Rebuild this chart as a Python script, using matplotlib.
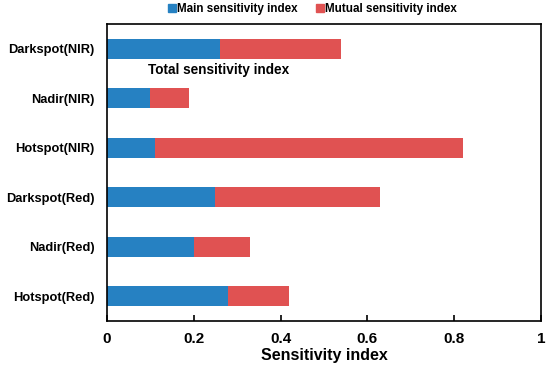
import matplotlib
matplotlib.use("Agg")
import matplotlib.pyplot as plt
from matplotlib.lines import Line2D

plt.rcParams['font.family'] = ['Liberation Sans', 'DejaVu Sans']
plt.rcParams['font.weight'] = 'bold'

categories = ["Hotspot(Red)", "Nadir(Red)", "Darkspot(Red)",
              "Hotspot(NIR)", "Nadir(NIR)", "Darkspot(NIR)"]
main_index = [0.28, 0.20, 0.25, 0.11, 0.10, 0.26]
total_index = [0.42, 0.33, 0.63, 0.82, 0.19, 0.54]
mutual_index = [t - m for t, m in zip(total_index, main_index)]
xticks = [0, 0.2, 0.4, 0.6, 0.8, 1]
xticklabels = ["0", "0.2", "0.4", "0.6", "0.8", "1"]

blue = "#2681c2"
red = "#e05252"

fig = plt.figure(figsize=(5.5, 3.7), dpi=100)
ax = fig.add_axes([0.1945, 0.1324, 0.789, 0.8026])
y = list(range(len(categories)))
ax.barh(y, main_index, height=0.4, color=blue, label="Main sensitivity index")
ax.barh(y, mutual_index, left=main_index, height=0.4, color=red,
        label="Mutual sensitivity index")
ax.set_ylim(-0.5, 5.5)
ax.set_xlim(0, 1)
ax.set_yticks(y)
ax.set_yticklabels(categories, fontsize=9.3, fontweight='bold')
ax.set_xticks(xticks)
ax.set_xticklabels(xticklabels, fontsize=11, fontweight='bold')
ax.tick_params(axis='x', direction='in', length=4, width=1.2, pad=8)
ax.tick_params(axis='y', length=0, pad=9)
for s in ax.spines.values():
    s.set_linewidth(1.2)
ax.set_xlabel("Sensitivity index", fontsize=11.5, fontweight='bold', labelpad=1)
ax.text(0.095, 4.58, "Total sensitivity index", fontsize=9.8, fontweight='bold',
        va='center', ha='left')

handles = [Line2D([], [], marker='s', color=blue, linestyle='none', markersize=5.5),
           Line2D([], [], marker='s', color=red, linestyle='none', markersize=5.5)]
fig.legend(handles, ["Main sensitivity index", "Mutual sensitivity index"],
           loc='center', bbox_to_anchor=(0.568, 0.975), ncol=2, frameon=False,
           fontsize=8.4, handletextpad=0.1, columnspacing=1.5, handlelength=0.7)

fig.savefig("out.png", dpi=100)
